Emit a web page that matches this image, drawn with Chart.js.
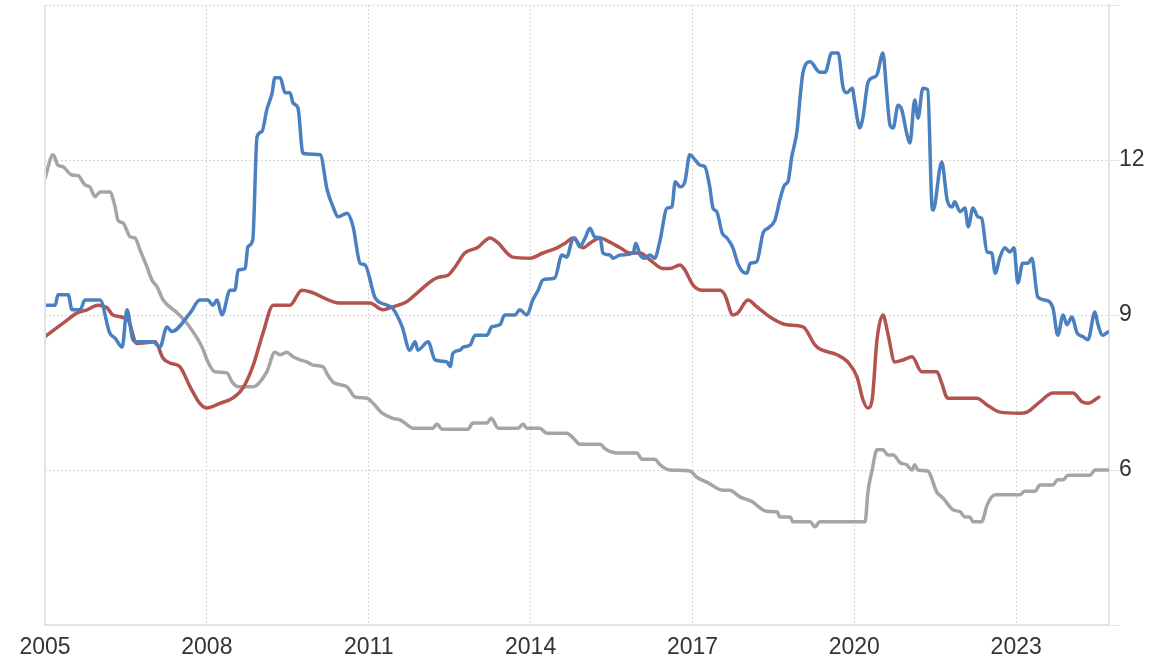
<!DOCTYPE html>
<html>
<head>
<meta charset="utf-8">
<script src="https://cdn.jsdelivr.net/npm/chart.js@4.4.1/dist/chart.umd.min.js"></script>
<style>
  html, body { margin: 0; padding: 0; background: #ffffff; }
  #wrap { position: relative; width: 1157px; height: 662px; }
</style>
</head>
<body>
<div id="wrap"><canvas id="c"></canvas></div>
<script>
// ---- data (decimal years, values) ----
const blueYears = [2005.00,2005.19,2005.24,2005.43,2005.50,2005.65,2005.74,2006.02,2006.20,2006.30,2006.43,2006.52,2006.63,2006.70,2007.00,2007.13,2007.26,2007.35,2007.69,2007.87,2008.02,2008.11,2008.19,2008.28,2008.43,2008.52,2008.58,2008.71,2008.76,2008.85,2008.93,2009.02,2009.11,2009.21,2009.26,2009.36,2009.45,2009.54,2009.60,2009.69,2009.78,2010.10,2010.23,2010.34,2010.43,2010.60,2010.71,2010.84,2010.93,2011.12,2011.34,2011.45,2011.62,2011.76,2011.86,2011.91,2012.10,2012.23,2012.45,2012.51,2012.56,2012.69,2012.75,2012.88,2012.97,2013.19,2013.28,2013.43,2013.52,2013.71,2013.80,2013.93,2014.04,2014.14,2014.23,2014.45,2014.58,2014.67,2014.77,2014.82,2014.91,2015.01,2015.10,2015.19,2015.29,2015.34,2015.47,2015.53,2015.66,2015.90,2015.95,2016.03,2016.12,2016.21,2016.30,2016.40,2016.53,2016.62,2016.68,2016.77,2016.86,2016.95,2017.05,2017.14,2017.23,2017.32,2017.38,2017.45,2017.55,2017.64,2017.75,2017.84,2017.94,2018.01,2018.07,2018.19,2018.31,2018.40,2018.53,2018.62,2018.71,2018.77,2018.84,2018.94,2018.99,2019.05,2019.18,2019.36,2019.46,2019.58,2019.70,2019.79,2019.86,2019.96,2020.01,2020.10,2020.16,2020.25,2020.33,2020.42,2020.53,2020.60,2020.66,2020.72,2020.81,2020.88,2020.97,2021.03,2021.12,2021.18,2021.27,2021.36,2021.44,2021.46,2021.62,2021.72,2021.81,2021.86,2021.96,2022.05,2022.11,2022.20,2022.29,2022.36,2022.46,2022.55,2022.61,2022.70,2022.79,2022.88,2022.96,2023.03,2023.12,2023.22,2023.29,2023.40,2023.53,2023.68,2023.77,2023.87,2023.94,2024.03,2024.13,2024.24,2024.33,2024.46,2024.51,2024.60,2024.70];
const blueValues = [9.19,9.19,9.39,9.39,9.10,9.10,9.29,9.29,8.65,8.55,8.38,9.10,8.52,8.48,8.48,8.38,8.77,8.68,9.04,9.29,9.29,9.19,9.29,9.00,9.48,9.48,9.87,9.90,10.32,10.45,12.45,12.55,12.97,13.30,13.59,13.59,13.30,13.30,13.10,13.00,12.13,12.10,11.42,11.09,10.90,10.97,10.71,10.00,9.97,9.33,9.19,9.12,8.77,8.32,8.48,8.32,8.48,8.13,8.09,8.00,8.26,8.32,8.38,8.42,8.61,8.61,8.77,8.81,9.00,9.00,9.10,9.00,9.29,9.48,9.68,9.72,10.16,10.12,10.45,10.49,10.32,10.49,10.68,10.51,10.49,10.20,10.16,10.10,10.16,10.20,10.39,10.16,10.10,10.16,10.10,10.45,11.07,11.09,11.58,11.48,11.58,12.10,12.00,11.90,11.87,11.48,11.07,11.00,10.59,10.49,10.30,10.00,9.83,9.81,10.00,10.03,10.59,10.68,10.84,11.23,11.52,11.58,12.06,12.58,13.16,13.70,13.90,13.70,13.70,14.07,14.07,13.41,13.30,13.39,13.10,12.62,12.83,13.49,13.59,13.65,14.07,13.30,12.68,12.62,13.06,12.97,12.52,12.33,13.16,12.81,13.39,13.36,11.09,11.03,11.96,11.23,11.09,11.19,11.00,11.07,10.71,11.07,10.90,10.87,10.22,10.20,9.81,10.12,10.30,10.22,10.30,9.62,10.00,10.00,10.10,9.35,9.29,9.14,8.61,9.00,8.81,8.96,8.65,8.58,8.52,9.06,8.84,8.61,8.67];

const redYears = [2005.00,2005.41,2005.59,2005.78,2005.98,2006.15,2006.26,2006.54,2006.70,2007.04,2007.19,2007.32,2007.50,2007.69,2007.87,2008.00,2008.24,2008.48,2008.67,2008.85,2009.04,2009.23,2009.54,2009.76,2009.91,2010.47,2011.02,2011.26,2011.39,2011.71,2011.89,2012.26,2012.47,2012.60,2012.78,2013.01,2013.25,2013.38,2013.67,2013.99,2014.23,2014.49,2014.64,2014.79,2014.97,2015.10,2015.29,2015.47,2015.66,2015.84,2016.03,2016.21,2016.45,2016.58,2016.77,2016.86,2017.01,2017.19,2017.51,2017.60,2017.75,2017.84,2018.03,2018.19,2018.44,2018.75,2019.05,2019.27,2019.36,2019.68,2019.88,2020.05,2020.16,2020.25,2020.33,2020.42,2020.53,2020.62,2020.75,2020.90,2021.07,2021.25,2021.53,2021.62,2021.73,2022.27,2022.46,2022.70,2023.07,2023.20,2023.44,2023.68,2024.05,2024.22,2024.33,2024.53];
const redValues = [8.58,8.90,9.04,9.10,9.19,9.14,9.00,8.90,8.45,8.48,8.16,8.07,8.00,7.61,7.29,7.20,7.29,7.39,7.59,8.00,8.65,9.19,9.19,9.48,9.45,9.23,9.23,9.10,9.14,9.26,9.42,9.72,9.77,9.93,10.20,10.30,10.49,10.41,10.12,10.10,10.20,10.30,10.39,10.49,10.30,10.39,10.49,10.41,10.30,10.20,10.20,10.07,9.90,9.90,9.97,9.87,9.58,9.48,9.48,9.39,9.00,9.04,9.29,9.16,8.96,8.81,8.77,8.42,8.34,8.23,8.09,7.80,7.36,7.20,7.36,8.52,9.00,8.65,8.09,8.13,8.19,7.90,7.90,7.68,7.39,7.39,7.26,7.12,7.10,7.12,7.32,7.49,7.49,7.32,7.29,7.41];

const grayYears = [2005.00,2005.15,2005.24,2005.33,2005.50,2005.61,2005.74,2005.83,2005.93,2006.02,2006.20,2006.30,2006.35,2006.45,2006.58,2006.67,2006.76,2006.89,2006.98,2007.08,2007.19,2007.45,2007.63,2007.91,2008.02,2008.15,2008.37,2008.47,2008.58,2008.85,2009.11,2009.26,2009.36,2009.48,2009.60,2009.73,2009.86,2009.97,2010.15,2010.24,2010.34,2010.47,2010.60,2010.75,2010.97,2011.08,2011.25,2011.45,2011.58,2011.67,2011.82,2012.19,2012.26,2012.36,2012.84,2012.93,2013.19,2013.27,2013.40,2013.77,2013.86,2013.93,2014.17,2014.30,2014.67,2014.79,2014.91,2015.29,2015.38,2015.60,2015.97,2016.06,2016.30,2016.40,2016.58,2016.95,2017.08,2017.29,2017.56,2017.69,2017.88,2018.12,2018.21,2018.38,2018.57,2018.62,2018.81,2018.86,2019.18,2019.27,2019.36,2020.20,2020.25,2020.33,2020.42,2020.53,2020.62,2020.72,2020.85,2020.97,2021.07,2021.12,2021.18,2021.36,2021.53,2021.64,2021.83,2021.96,2022.05,2022.14,2022.20,2022.36,2022.46,2022.61,2023.07,2023.16,2023.35,2023.44,2023.68,2023.77,2023.87,2023.96,2024.37,2024.46,2024.70];
const grayValues = [11.65,12.10,11.90,11.87,11.71,11.70,11.52,11.48,11.29,11.38,11.38,11.09,10.84,10.78,10.51,10.49,10.26,9.93,9.68,9.54,9.29,9.04,8.84,8.38,8.09,7.90,7.88,7.70,7.61,7.61,7.90,8.28,8.23,8.28,8.19,8.13,8.09,8.03,8.00,7.84,7.70,7.65,7.61,7.41,7.39,7.29,7.10,7.00,6.97,6.91,6.81,6.81,6.89,6.79,6.79,6.91,6.91,7.00,6.81,6.81,6.89,6.81,6.81,6.71,6.71,6.62,6.50,6.50,6.41,6.33,6.33,6.21,6.21,6.10,6.00,5.98,5.86,5.75,5.61,5.61,5.48,5.38,5.30,5.20,5.19,5.09,5.09,5.00,5.00,4.90,5.00,5.00,5.56,6.00,6.39,6.39,6.29,6.29,6.14,6.10,6.00,6.10,6.00,5.98,5.57,5.46,5.23,5.19,5.09,5.09,5.00,5.00,5.32,5.52,5.52,5.59,5.59,5.71,5.71,5.81,5.81,5.90,5.90,6.00,6.00];

const xTickYears = [2005, 2008, 2011, 2014, 2017, 2020, 2023];
const yTickValues = [3, 6, 9, 12, 15];
const yLabelValues = [6, 9, 12];

const toPoints = (xs, ys) => xs.map((x, i) => ({ x: x, y: ys[i] }));

const leftBorder = {
  id: 'leftBorder',
  afterDatasetsDraw(chart) {
    const a = chart.chartArea, ctx = chart.ctx;
    ctx.save();
    ctx.strokeStyle = '#e3e3e3';
    ctx.lineWidth = 2;
    ctx.beginPath();
    ctx.moveTo(a.left, a.top);
    ctx.lineTo(a.left, a.bottom);
    ctx.stroke();
    ctx.restore();
  }
};

const lineStyle = { borderWidth: 3.5, pointRadius: 0, pointHoverRadius: 0, fill: false,
  cubicInterpolationMode: 'monotone', borderJoinStyle: 'round', borderCapStyle: 'round' };

new Chart(document.getElementById('c'), {
  type: 'line',
  data: {
    datasets: [
      Object.assign({ label: 'Blue', data: toPoints(blueYears, blueValues), borderColor: '#4a80c0' }, lineStyle),
      Object.assign({ label: 'Red', data: toPoints(redYears, redValues), borderColor: '#b3534f' }, lineStyle),
      Object.assign({ label: 'Gray', data: toPoints(grayYears, grayValues), borderColor: '#a5a5a5' }, lineStyle)
    ]
  },
  plugins: [leftBorder],
  options: {
    responsive: true,
    maintainAspectRatio: false,
    animation: false,
    events: [],
    layout: { padding: { left: 45, right: 0, top: 5, bottom: 0 } },
    plugins: { legend: { display: false }, tooltip: { enabled: false } },
    scales: {
      x: {
        type: 'linear',
        min: 2005,
        max: 2024.72,
        afterBuildTicks: (s) => { s.ticks = xTickYears.map(v => ({ value: v })); },
        afterFit: (s) => { s.height = 37; s.paddingLeft = 0; s.paddingRight = 0; },
        grid: { color: '#d6d6d6', lineWidth: 1, drawTicks: false },
        border: { display: true, color: '#e3e3e3', width: 2, dash: [2, 2] },
        ticks: {
          padding: 9,
          color: '#333333',
          font: { family: '"Liberation Sans", Arial, sans-serif', size: 23 },
          maxRotation: 0,
          callback: (v) => String(v)
        }
      },
      y: {
        type: 'linear',
        position: 'right',
        min: 3,
        max: 15,
        afterBuildTicks: (s) => { s.ticks = yTickValues.map(v => ({ value: v })); },
        afterFit: (s) => { s.width = 48; s.paddingTop = 0; s.paddingBottom = 0; },
        grid: { color: '#d6d6d6', lineWidth: 1, drawTicks: true, tickLength: 10, tickColor: '#e3e3e3', tickWidth: 1 },
        border: { display: true, color: '#e3e3e3', width: 2, dash: [2, 2] },
        ticks: {
          padding: 0,
          color: '#333333',
          font: { family: '"Liberation Sans", Arial, sans-serif', size: 23 },
          callback: (v) => yLabelValues.includes(v) ? String(v) : ''
        }
      }
    }
  }
});
</script>
</body>
</html>
